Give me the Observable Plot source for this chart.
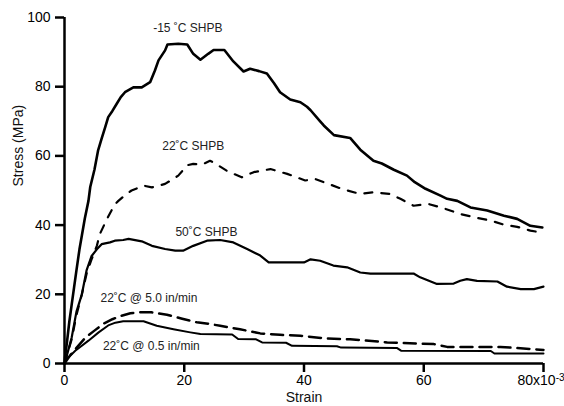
<!DOCTYPE html>
<html>
<head>
<meta charset="utf-8">
<script src="https://cdn.jsdelivr.net/npm/d3@7"></script>
<script src="https://cdn.jsdelivr.net/npm/@observablehq/plot@0.6"></script>
<style>
  html, body { margin: 0; padding: 0; background: white; }
</style>
</head>
<body>
<div id="chart"></div>
<script>
// ---- Data (strain in 10^-3, stress in MPa) ----
const m15Strain = [0, 0.1, 0.4, 0.8, 1.2, 1.6, 2.0, 2.5, 2.9, 3.4, 4.0, 4.3, 5.0, 5.6, 6.2, 6.8, 7.3, 8.0, 8.7, 9.4, 10.1, 11.5, 12.9, 14.3, 15.1, 15.7, 16.8, 17.2, 19.0, 20.5, 21.5, 22.7, 24.0, 24.9, 26.7, 28.2, 29.9, 31.0, 32.5, 33.8, 35.0, 36.0, 37.7, 39.4, 40.5, 41.1, 42.7, 43.3, 45.0, 47.7, 49.4, 51.6, 53.0, 55.0, 57.2, 58.5, 60.3, 62.8, 63.9, 65.6, 67.8, 70.6, 73.4, 75.6, 77.8, 79.8];
const m15Stress = [0, 2, 6, 12, 17, 22, 27, 33, 37, 42, 47, 51, 56, 61.5, 65, 68.3, 71.2, 73, 75, 77, 78.4, 79.8, 79.8, 81.3, 84.7, 87.6, 90.5, 92.2, 92.4, 92.2, 89.5, 87.8, 89.5, 90.6, 90.6, 87.3, 84.4, 85.2, 84.5, 83.8, 81, 78.4, 76.3, 75.5, 74.2, 73.2, 70, 68.8, 66, 65.2, 61.8, 58.6, 57.8, 56, 54.3, 52.4, 50.5, 48.5, 47.6, 47, 45.1, 44.2, 42.7, 41.8, 39.8, 39.3];

const r22Strain = [0, 1.2, 2.0, 2.9, 3.7, 4.5, 5.4, 5.9, 7.1, 8.4, 9.0, 10.0, 11.2, 13.2, 14.6, 16.8, 19.0, 20.5, 21.5, 23.0, 24.3, 25.0, 27.1, 29.6, 31.6, 34.4, 37.2, 40.2, 41.9, 44.1, 46.4, 49.4, 51.6, 54.4, 56.1, 58.3, 60.8, 63.6, 66.1, 68.9, 71.2, 73.4, 75.6, 77.8, 79.5];
const r22Stress = [0, 7, 14, 20, 26, 30, 34, 37.4, 41.8, 46, 47, 48.5, 50, 51.4, 50.9, 51.9, 54.3, 57.3, 57.7, 57.5, 58.6, 58, 55.7, 53.8, 55.3, 56.2, 54.8, 52.9, 53.3, 51.9, 50.4, 49, 49.5, 49, 47.6, 45.6, 46.1, 44.7, 43.2, 42.1, 41.3, 40.1, 39.5, 38.4, 37.9];

const h50Strain = [0, 0.5, 1.2, 2.0, 2.9, 3.7, 4.5, 5.4, 6.2, 7.6, 8.4, 9.8, 10.7, 12.9, 14.6, 16.8, 18.5, 19.8, 21.5, 23.8, 26.0, 28.2, 30.5, 32.7, 34.1, 40.0, 41.1, 42.7, 44.9, 47.2, 49.4, 51.1, 58.3, 59.4, 62.2, 65.0, 66.1, 67.2, 68.9, 72.3, 73.9, 76.2, 78.4, 80.0];
const h50Stress = [0, 3, 7.5, 15, 20, 27, 31, 33, 34.5, 35, 35.5, 35.7, 36, 35.3, 34, 33.1, 32.6, 32.6, 34, 35.5, 35.7, 35, 33.1, 31.2, 29.2, 29.2, 30.1, 29.7, 28.3, 27.8, 26.3, 26, 26, 24.9, 23, 23.1, 23.9, 24.4, 23.9, 23.7, 22.2, 21.5, 21.5, 22.2];

const q50Strain = [0, 1, 2, 3.5, 5, 6.5, 8, 9.5, 11, 12.6, 14.5, 17.1, 19.5, 22.1, 24, 26, 29.3, 32.7, 36, 39.4, 43.3, 47.7, 53.9, 61.7, 63.9, 72.8, 77.8, 80];
const q50Stress = [0, 2.5, 4.5, 7.5, 9.5, 11.5, 12.8, 13.8, 14.5, 14.8, 14.8, 14.1, 13, 11.9, 11.5, 10.9, 9.9, 8.7, 8.3, 8.0, 7.3, 7.0, 6.1, 5.6, 4.8, 4.8, 4.2, 3.9];

const q05Strain = [0, 0.1, 1.8, 4.0, 5.7, 7.3, 8.5, 9.8, 11.8, 13.2, 15.4, 18.2, 21, 22.7, 28.0, 29.0, 32.0, 33.0, 37.0, 38.0, 45.5, 46.2, 55.5, 56.2, 71.2, 71.8, 80];
const q05Stress = [0, 0.8, 3.7, 6.6, 9, 11, 11.8, 12.2, 12.2, 12.2, 10.9, 9.9, 9.0, 8.5, 8.4, 7.1, 7.0, 6.1, 6.0, 5.1, 5.0, 4.6, 4.5, 3.7, 3.6, 2.9, 2.9];

const labelText = ["-15 ˚C SHPB", "22˚C SHPB", "50˚C SHPB", "22˚C @ 5.0 in/min", "22˚C @ 0.5 in/min"];
const labelX = [20.6, 21.5, 23.7, 14.1, 14.5];
const labelY = [96.9, 62.8, 38.1, 18.8, 4.9];

const xTicks = [0, 20, 40, 60, 80];
const yTicks = [0, 20, 40, 60, 80, 100];

// ---- build tables ----
const toRows = (xs, ys) => xs.map((x, i) => ({x, y: ys[i]}));
const labels = labelText.map((t, i) => ({t, x: labelX[i], y: labelY[i]}));

const chart = Plot.plot({
  width: 564,
  height: 406,
  marginLeft: 64,
  marginRight: 21,
  marginTop: 17,
  marginBottom: 43,
  style: {fontFamily: "'Liberation Sans', Arial, Helvetica, sans-serif", background: "white", color: "black"},
  x: {domain: [0, 80]},
  y: {domain: [0, 100]},
  marks: [
    Plot.axisY({ticks: yTicks, tickSize: 9, tickPadding: 5, strokeWidth: 2.5, fontSize: 14, label: null}),
    Plot.axisX({ticks: xTicks, tickSize: 9, tickPadding: 3, strokeWidth: 2.5, fontSize: 14, label: null,
      tickFormat: d => d === 80 ? "80x10" : String(d)}),
    Plot.ruleX([0], {strokeWidth: 2.5}),
    Plot.ruleY([0], {strokeWidth: 2.5}),
    Plot.line(toRows(q05Strain, q05Stress), {x: "x", y: "y", stroke: "black", strokeWidth: 2}),
    Plot.line(toRows(q50Strain, q50Stress), {x: "x", y: "y", stroke: "black", strokeWidth: 2.5, strokeDasharray: "12,7"}),
    Plot.line(toRows(h50Strain, h50Stress), {x: "x", y: "y", stroke: "black", strokeWidth: 2.2}),
    Plot.line(toRows(r22Strain, r22Stress), {x: "x", y: "y", stroke: "black", strokeWidth: 2.2, strokeDasharray: "8,9"}),
    Plot.line(toRows(m15Strain, m15Stress), {x: "x", y: "y", stroke: "black", strokeWidth: 2.6}),
    Plot.text(labels, {x: "x", y: "y", text: "t", fontSize: 12, fill: "#222"}),
    Plot.text(["Stress (MPa)"], {frameAnchor: "left", dx: -46, dy: -4, rotate: -90, fontSize: 14, fill: "#111"}),
    Plot.text(["Strain"], {frameAnchor: "bottom", dy: 38, fontSize: 14, fill: "#111"})
  ]
});

document.getElementById("chart").appendChild(chart);

// superscript for the last x tick label
chart.querySelectorAll('[aria-label="x-axis tick label"] text').forEach(t => {
  if (t.textContent === "80x10") {
    t.setAttribute("text-anchor", "start");
    t.setAttribute("dx", "-26");
    const ts = document.createElementNS("http://www.w3.org/2000/svg", "tspan");
    ts.textContent = "-3";
    ts.setAttribute("dy", "-0.45em");
    ts.setAttribute("font-size", "10");
    t.appendChild(ts);
  }
});
</script>
</body>
</html>
